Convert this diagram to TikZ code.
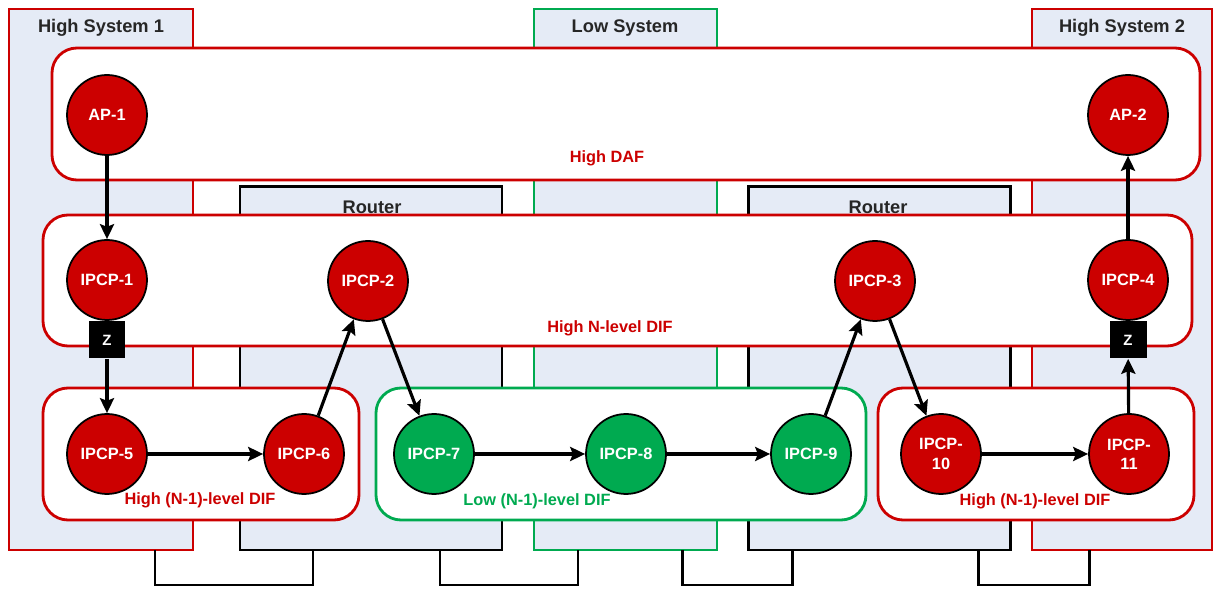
\documentclass[tikz,border=0pt]{standalone}
\usepackage{fontspec}
\setmainfont{Liberation Sans}
\usetikzlibrary{arrows.meta}
\definecolor{hred}{RGB}{204,0,0}
\definecolor{lgreen}{RGB}{0,170,80}
\definecolor{sysfill}{RGB}{229,235,246}
\definecolor{titlegray}{RGB}{38,38,38}
\begin{document}
\begin{tikzpicture}[x=0.02cm,y=-0.02cm,
  hsys/.style={draw=hred, line width=1.6pt, fill=sysfill},
  lsys/.style={draw=lgreen, line width=1.6pt, fill=sysfill},
  rsys/.style={draw=black, line width=1.7pt, fill=sysfill},
  title/.style={text=titlegray, font=\bfseries\fontsize{10.4}{12}\selectfont},
  hdif/.style={draw=hred, line width=1.6pt, fill=white, rounded corners=0.5cm},
  ldif/.style={draw=lgreen, line width=1.6pt, fill=white, rounded corners=0.5cm},
  hlabel/.style={text=hred, font=\bfseries\fontsize{9.3}{11}\selectfont},
  llabel/.style={text=lgreen, font=\bfseries\fontsize{9.3}{11}\selectfont},
  cable/.style={draw=black, line width=1.7pt},
  hnode/.style={circle, draw=black, line width=1pt, fill=hred, text=white,
    font=\bfseries\fontsize{9.3}{11}\selectfont, minimum size=1.6cm, inner sep=0pt, align=center},
  lnode/.style={hnode, fill=lgreen},
  zbox/.style={fill=black, text=white, font=\bfseries\fontsize{8.5}{10}\selectfont,
    minimum size=0.74cm, inner sep=0pt},
  arr/.style={line width=1.8pt, -{Stealth[length=8.5pt,width=8pt,inset=1.5pt]}},
  seg/.style={line width=1.8pt}
]
\useasboundingbox (0,0) rectangle (1214,590);

% systems
\draw[hsys] (9,9) rectangle (193,550);
\draw[lsys] (534,9) rectangle (717,550);
\draw[hsys] (1032,9) rectangle (1212,550);
\draw[rsys] (240,187) rectangle (502,550);
\draw[rsys] (748,187) rectangle (1010,550);

\node[title] (t1) at (101,28) {High System 1};
\node[title] (t2) at (625,28) {Low System};
\node[title] (t3) at (1122,28) {High System 2};
\node[title] (t4) at (372,207) {Router};
\node[title] (t5) at (878,207) {Router};

% cables
\coordinate (k1a) at (155,550); \coordinate (k1b) at (313,550);
\coordinate (k2a) at (440,550); \coordinate (k2b) at (578,550);
\coordinate (k3a) at (682,550); \coordinate (k3b) at (792,550);
\coordinate (k4a) at (978,550); \coordinate (k4b) at (1089,550);
\draw[cable] (k1a) -- ++(0,35) -| (k1b);
\draw[cable] (k2a) -- ++(0,35) -| (k2b);
\draw[cable] (k3a) -- ++(0,35) -| (k3b);
\draw[cable] (k4a) -- ++(0,35) -| (k4b);

% DIFs
\draw[hdif] (52,48) rectangle (1200,180);
\draw[hdif] (43,215) rectangle (1192,346);
\draw[hdif] (43,388) rectangle (359,520);
\draw[ldif] (376,388) rectangle (866,520);
\draw[hdif] (878,388) rectangle (1194,520);

\node[hlabel] (l1) at (607,158) {High DAF};
\node[hlabel] (l2) at (610,328) {High N-level DIF};
\node[hlabel] (l3) at (200,500) {High (N-1)-level DIF};
\node[llabel] (l4) at (537,501) {Low (N-1)-level DIF};
\node[hlabel] (l5) at (1035,501) {High (N-1)-level DIF};

% nodes
\node[hnode] (ap1) at (107,115) {AP-1};
\node[hnode] (ap2) at (1128,115) {AP-2};
\node[hnode] (p1) at (107,280) {IPCP-1};
\node[hnode] (p2) at (368,281) {IPCP-2};
\node[hnode] (p3) at (875,281) {IPCP-3};
\node[hnode] (p4) at (1128,280) {IPCP-4};
\node[hnode] (p5) at (107,454) {IPCP-5};
\node[hnode] (p6) at (304,454) {IPCP-6};
\node[lnode] (p7) at (434,454) {IPCP-7};
\node[lnode] (p8) at (626,454) {IPCP-8};
\node[lnode] (p9) at (811,454) {IPCP-9};
\node[hnode] (p10) at (941,454) {IPCP-\\10};
\node[hnode] (p11) at (1129,454) {IPCP-\\11};
\node[zbox] (z1) at (107,340) {Z};
\node[zbox] (z2) at (1128,340) {Z};

% connectors
\draw[arr] (ap1) -- (p1);
\draw[seg] (p1) -- (z1);
\draw[arr] (z1) -- (p5);
\draw[arr] (p5) -- (p6);
\draw[arr] (p6) -- (p2);
\draw[arr] (p2) -- (p7);
\draw[arr] (p7) -- (p8);
\draw[arr] (p8) -- (p9);
\draw[arr] (p9) -- (p3);
\draw[arr] (p3) -- (p10);
\draw[arr] (p10) -- (p11);
\draw[arr] (p11) -- (z2);
\draw[seg] (z2) -- (p4);
\draw[arr] (p4) -- (ap2);
\end{tikzpicture}
\end{document}
